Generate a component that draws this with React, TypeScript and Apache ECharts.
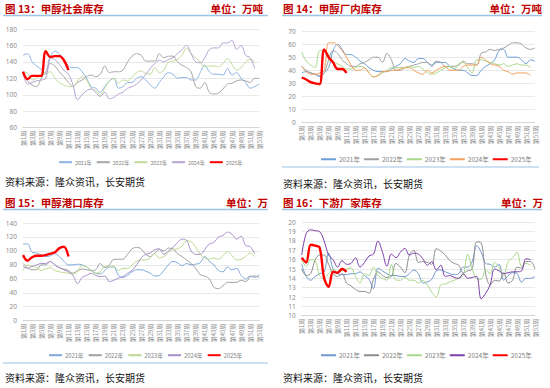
import React, { useEffect, useRef } from "react";
import * as echarts from "echarts";

const weeks: string[] = Array.from({ length: 53 }, (_, i) => `第${i + 1}周`);
const years = ["2021年", "2022年", "2023年", "2024年", "2025年"];
const N = null;

// 图13 甲醇社会库存
const soc2021 = [148,150,140,135,131,125,145,153,150,143,135,133,133,128,120,110,108,103,110,117,120,108,110,115,115,120,122,118,112,108,115,122,127,125,120,121,121,118,118,127,136,128,125,125,124,132,124,127,120,115,108,110,113];
const soc2022 = [128,117,112,110,120,128,138,135,128,122,115,110,115,118,122,124,122,125,135,127,128,128,130,140,147,150,148,141,141,141,150,145,147,147,140,136,133,128,110,108,115,103,101,102,107,113,114,117,118,117,115,120,120];
const soc2023 = [128,126,118,120,125,126,128,120,115,112,110,110,117,122,118,108,105,100,108,117,120,114,118,117,122,127,129,126,125,133,127,130,140,141,143,148,157,150,145,140,134,135,135,134,138,144,137,130,133,140,143,140,N];
const soc2024 = [128,113,115,117,118,120,145,143,137,130,125,112,94,100,105,107,103,98,103,95,97,101,103,108,110,113,118,125,132,138,142,140,143,145,150,155,160,150,140,139,145,155,157,157,163,163,166,155,160,148,145,132,N];
const soc2025 = [128,119,123,123,123,153,146,147,147,142,130];

// 图14 甲醇厂内库存
const pl2021 = [38,39,38,37,35,38,42,55,60,56,52,52,50,47,45,42,40,39,39,39,41,43,45,49,47,46,49,49,46,43,46,46,46,43,41,40,40,38,36,36,40,43,45,48,55,56,50,50,50,48,45,48,47];
const pl2022 = [43,40,38,37,36,38,48,55,53,48,45,43,43,45,46,48,50,50,46,53,48,40,40,42,43,44,45,46,46,44,47,46,43,43,43,44,47,45,45,44,53,54,56,55,56,57,59,61,61,60,57,56,57];
const pl2023 = [54,47,44,42,55,55,52,47,45,43,41,41,42,43,42,38,35,36,38,40,42,42,42,42,43,42,43,41,38,37,38,40,42,43,41,45,46,42,38,48,48,47,46,45,44,45,43,44,45,44,44,42,N];
const pl2024 = [43,39,37,37,38,40,61,61,59,55,50,44,40,40,42,38,35,36,39,39,40,40,41,42,42,40,38,37,40,38,40,42,43,40,40,40,43,44,44,44,50,48,45,44,43,40,39,37,38,38,38,36,N];
const pl2025 = [34.5,33,31,30,29.5,56,50,46,41,41,38];

// 图15 甲醇港口库存
const pt2021 = [110,110,98,97,94,92,93,96,92,85,80,80,81,80,77,72,68,67,72,77,77,65,62,65,70,73,73,71,68,64,65,72,80,85,83,79,82,80,81,83,92,85,80,72,70,77,73,75,65,60,64,62,66];
const pt2022 = [82,76,73,73,80,80,85,80,76,74,72,68,72,74,73,72,73,82,76,80,88,88,88,95,103,105,103,95,92,97,102,100,104,103,96,92,87,82,75,66,64,60,48,46,50,55,55,55,58,56,63,64,62];
const pt2023 = [72,80,78,76,72,74,76,72,70,69,68,67,70,79,77,72,68,70,78,78,78,72,75,75,80,85,87,87,90,96,90,92,98,102,103,107,115,113,106,95,90,88,90,88,93,99,93,87,88,92,97,92,N];
const pt2024 = [78,75,78,80,82,82,85,80,76,73,70,65,53,62,65,68,65,63,64,56,58,61,63,68,72,80,90,95,97,102,103,95,100,105,112,117,115,100,95,95,102,110,112,120,122,127,124,117,121,108,106,96,N];
const pt2025 = [94,86,91,93,93,94,96,98,104,106,92];

// 图16 下游厂家库存
const dn2021 = [15.5,14.2,13.8,14.2,14.5,14.7,16.7,15.0,14.5,14.4,14.4,14.5,14.5,14.7,14.3,13.9,12.9,15.1,14.8,14.5,14.3,14.3,14.2,14.2,14.5,14.9,14.5,13.5,13.6,13.9,14.8,14.9,14.7,14.5,14.4,14.5,15.2,15.2,15.8,17.5,16.8,15.6,15.5,15.2,15.5,13.8,14.3,14.6,14.5,13.6,14.0,14.0,14.2];
const dn2022 = [15.0,14.3,14.5,16.0,16.5,16.5,15.5,14.5,14.2,14.5,13.5,13.2,12.8,12.6,12.6,12.4,13.9,14.7,14.3,14.1,14.2,15.6,15.2,14.6,16.5,17.0,15.7,15.8,15.7,15.5,17.2,16.9,16.5,15.9,15.6,15.4,14.6,14.8,15.0,17.9,17.8,14.5,13.3,13.8,13.7,14.6,13.5,13.8,15.2,15.1,15.8,15.8,15.0];
const dn2023 = [16.0,15.3,16.0,15.9,14.3,14.0,14.5,15.0,14.7,14.8,15.0,15.1,14.2,13.5,14.5,14.3,15.2,14.3,14.0,13.8,15.5,13.8,13.8,14.1,13.8,13.8,13.5,13.8,13.3,12.5,12.0,13.3,13.4,13.6,13.8,14.0,14.3,16.6,15.0,14.0,13.9,14.9,14.5,15.7,15.2,14.3,15.8,16.2,16.8,15.3,15.6,15.4,N];
const dn2024 = [16.5,18.8,19.2,19.1,19.0,18.0,16.5,16.0,15.2,15.9,15.5,15.6,16.2,15.2,15.7,16.4,16.6,18.0,16.8,15.3,16.6,16.2,16.8,17.2,16.5,16.7,16.6,16.1,15.4,15.8,14.9,15.4,14.2,14.3,14.1,14.0,14.5,14.0,14.1,14.2,11.8,12.4,13.3,15.0,14.8,14.5,14.6,14.7,14.7,14.8,16.1,16.0,N];
const dn2025 = [16.2,15.7,17.6,17.5,17.3,14.0,13.1,14.7,14.6,15.0,14.7];

const CJK = "'Noto Sans CJK SC', 'Noto Sans', sans-serif";

type Panel = {
  left: number; top: number;
  title: string; unit: string; titleX: number; unitRight: number;
  yMin: number; yMax: number; yStep: number;
  grid: { left: number; right: number; top: number; height: number };
  legend: { left: number; top: number; fontSize: number; itemWidth: number; itemGap: number };
  colors: string[];
  data: (number | null)[][];
  lineX: [number, number];
  sourceX: number; sourceY: number;
  bottomLine: null | { y: number; x1: number; x2: number };
};

const panels: Panel[] = [
  {
    left: 0, top: 0,
    title: "图 13：甲醇社会库存", unit: "单位：万吨", titleX: 5, unitRight: 263,
    yMin: 60, yMax: 180, yStep: 20,
    grid: { left: 23, right: 15.7, top: 29, height: 98.7 },
    legend: { left: 53, top: 154, fontSize: 5.2, itemWidth: 13, itemGap: 4 },
    colors: ["#8DB3E2", "#A6A6A6", "#C3DC9B", "#B6A3D3", "#FF0000"],
    data: [soc2021, soc2022, soc2023, soc2024, soc2025],
    lineX: [3, 268], sourceX: 5, sourceY: 181, bottomLine: null,
  },
  {
    left: 275, top: 0,
    title: "图 14：甲醇厂内库存", unit: "单位：万吨", titleX: 8, unitRight: 267,
    yMin: 0, yMax: 70, yStep: 10,
    grid: { left: 26.7, right: 15, top: 31, height: 91.7 },
    legend: { left: 40, top: 151, fontSize: 6.5, itemWidth: 15, itemGap: 3 },
    colors: ["#6E9FD6", "#A0A0A0", "#A9D88A", "#F4A05C", "#FF0000"],
    data: [pl2021, pl2022, pl2023, pl2024, pl2025],
    lineX: [7, 267], sourceX: 8, sourceY: 183, bottomLine: { y: 167, x1: 7, x2: 264 },
  },
  {
    left: 0, top: 194,
    title: "图 15：甲醇港口库存", unit: "单位：万", titleX: 5, unitRight: 268,
    yMin: 0, yMax: 140, yStep: 20,
    grid: { left: 23, right: 15.7, top: 29, height: 97.7 },
    legend: { left: 43, top: 153, fontSize: 5.8, itemWidth: 13, itemGap: 4 },
    colors: ["#7FA8DC", "#A0A0A0", "#BCD98E", "#A890C8", "#FF0000"],
    data: [pt2021, pt2022, pt2023, pt2024, pt2025],
    lineX: [3, 268], sourceX: 5, sourceY: 183, bottomLine: { y: 169, x1: 3, x2: 268 },
  },
  {
    left: 275, top: 194,
    title: "图 16：下游厂家库存", unit: "单位：万", titleX: 8, unitRight: 268,
    yMin: 10, yMax: 20, yStep: 1,
    grid: { left: 26.7, right: 15, top: 28.3, height: 93.4 },
    legend: { left: 40, top: 153, fontSize: 6.5, itemWidth: 15, itemGap: 3 },
    colors: ["#7098D0", "#8E8E8E", "#A9D88A", "#7B3FA8", "#FF0000"],
    data: [dn2021, dn2022, dn2023, dn2024, dn2025],
    lineX: [7, 267], sourceX: 8, sourceY: 183, bottomLine: null,
  },
];

function buildOption(p: Panel) {
  const graphic: any[] = [
    { type: "text", x: p.titleX, y: 8, style: { text: p.title, fill: "#C00000", font: `bold 10.5px ${CJK}`, verticalAlign: "middle", align: "left" } },
    { type: "text", x: p.unitRight, y: 8, style: { text: p.unit, fill: "#C00000", font: `bold 10.5px ${CJK}`, verticalAlign: "middle", align: "right" } },
    { type: "line", shape: { x1: p.lineX[0], y1: 15.5, x2: p.lineX[1], y2: 15.5 }, style: { stroke: "#9DC3E6", lineWidth: 1.5 } },
    { type: "text", x: p.sourceX, y: p.sourceY, style: { text: "资料来源：隆众资讯，长安期货", fill: "#111", font: `10px ${CJK}`, verticalAlign: "middle", align: "left" } },
  ];
  if (p.bottomLine) {
    graphic.push({ type: "line", shape: { x1: p.bottomLine.x1, y1: p.bottomLine.y, x2: p.bottomLine.x2, y2: p.bottomLine.y }, style: { stroke: "#9DC3E6", lineWidth: 1.2 } });
  }
  return {
    animation: false,
    backgroundColor: "#fff",
    graphic,
    legend: {
      left: p.legend.left, top: p.legend.top,
      itemWidth: p.legend.itemWidth, itemHeight: 8, itemGap: p.legend.itemGap,
      itemStyle: { opacity: 0 },
      textStyle: { fontSize: p.legend.fontSize, color: "#7F7F7F", fontFamily: CJK, padding: [0, 0, 0, -2] },
      data: years,
    },
    grid: { left: p.grid.left, right: p.grid.right, top: p.grid.top, height: p.grid.height, containLabel: false },
    xAxis: {
      type: "category", data: weeks, boundaryGap: false,
      axisTick: { show: false },
      axisLine: { lineStyle: { color: "#D0D0D0", width: 0.8 } },
      axisLabel: { rotate: 90, interval: 1, fontSize: 6, color: "#8C8C8C", margin: 3, fontFamily: CJK },
    },
    yAxis: {
      type: "value", min: p.yMin, max: p.yMax, interval: p.yStep,
      axisLine: { show: false }, axisTick: { show: false },
      splitLine: { lineStyle: { color: "#E3E3E3", width: 0.8 } },
      axisLabel: { fontSize: 6.5, color: "#8C8C8C", margin: 6, fontFamily: "'Noto Sans', sans-serif" },
    },
    series: years.map((name, i) => ({
      type: "line", name, data: p.data[i], smooth: 0.35, symbol: "none", connectNulls: false,
      z: i === 4 ? 10 : 2 + i,
      lineStyle: { color: p.colors[i], width: i === 4 ? 2.4 : 1 },
      itemStyle: { color: p.colors[i] },
    })),
  };
}

function ChartPanel({ p }: { p: Panel }) {
  const ref = useRef<HTMLDivElement>(null);
  useEffect(() => {
    if (!ref.current) return;
    const chart = echarts.init(ref.current, null, { renderer: "svg" });
    chart.setOption(buildOption(p));
    return () => chart.dispose();
  }, [p]);
  return <div ref={ref} style={{ position: "absolute", left: p.left, top: p.top, width: 275, height: 194 }} />;
}

export default function App() {
  return (
    <div style={{ position: "fixed", left: 0, top: 0, width: 550, height: 388, background: "#fff", overflow: "hidden" }}>
      {panels.map((p, i) => <ChartPanel key={i} p={p} />)}
    </div>
  );
}
